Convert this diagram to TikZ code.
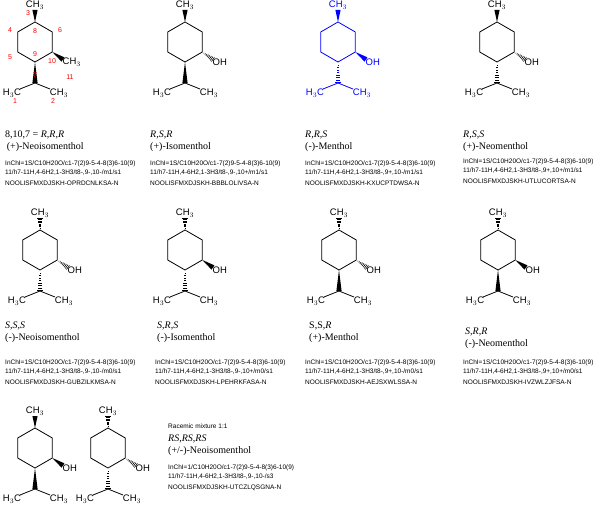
\documentclass[tikz,border=0pt]{standalone}
\usepackage{fontspec}
\setmainfont{Liberation Serif}
\newfontfamily\sanss{Liberation Sans}
\usetikzlibrary{calc}
\tikzset{
  bond/.style={line width=0.8pt},
  atom/.style={font=\sanss\fontsize{9.5}{9.5}\selectfont,inner sep=0.5pt},
  num/.style={font=\sanss\fontsize{7}{7}\selectfont,text=red,inner sep=0pt},
  small/.style={font=\sanss\fontsize{6.5}{8.4}\selectfont,anchor=north west,inner sep=0pt,align=left},
  lab/.style={font=\fontsize{10}{11.5}\selectfont,anchor=north west,inner sep=0pt,align=left}
}
\newcommand\bplain[2]{\draw[bond] (#1) -- (#2);}
\newcommand\bwedge[2]{\fill (#1) -- ($(#2)!2.6pt!90:(#1)$) -- ($(#2)!2.6pt!-90:(#1)$) -- cycle;}
\newcommand\bhash[2]{\foreach \t in {0.15,0.27,...,1.0}{\draw[line width=0.6pt] ($($(#1)!\t!(#2)$)!{\t*2.6pt}!90:(#2)$) -- ($($(#1)!\t!(#2)$)!{\t*2.6pt}!-90:(#2)$);}}
% #1 name #2 x #3 y #4 top bond #5 sub bond #6 iso bond #7 sub label #8 color
\newcommand\menthol[8]{
\begin{scope}[shift={(#2,#3)},color=#8]
\coordinate (#1c8) at (0,0); \coordinate (#1c6) at (17.3,10); \coordinate (#1c10) at (17.3,30);
\coordinate (#1c9) at (0,40); \coordinate (#1c5) at (-17.3,30); \coordinate (#1c4) at (-17.3,10);
\coordinate (#1c7) at (0,61);
\node[atom,text=#8] (#1m) at (0,-17) {CH$_3$};
\node[atom,text=#8] (#1a) at (-23,71) {H$_3$C};
\node[atom,text=#8] (#1b) at (24,71) {CH$_3$};
\node[atom,text=#8,anchor=west] (#1s) at (27,40) {#7};
\draw[bond,line join=round] (#1c8) -- (#1c6) -- (#1c10) -- (#1c9) -- (#1c5) -- (#1c4) -- cycle;
\coordinate (#1mt) at (0,-12); \coordinate (#1st) at (28,37.5);
\coordinate (#1at) at (-15,67); \coordinate (#1bt) at (15,67);
#4{#1c8}{#1mt}
#5{#1c10}{#1st}
#6{#1c9}{#1c7}
\draw[bond] (#1at) -- (#1c7) -- (#1bt);
\end{scope}}
\begin{document}
\begin{tikzpicture}[x=1pt,y=-1pt]
\useasboundingbox (0,0) rectangle (601,510);
% row 1
\menthol{A}{35}{22}{\bwedge}{\bwedge}{\bwedge}{CH$_3$}{black}
\foreach \n/\p in {3/{28,13},8/{35,31},4/{10,30},6/{60,30},5/{10,57},9/{35,54},10/{52,61},11/{70,77},7/{35,75},1/{15,101},2/{53,101}}
  \node[num] (n\n) at (\p) {\n};
\menthol{B}{185}{22}{\bwedge}{\bhash}{\bwedge}{OH}{black}
\menthol{C}{338}{22}{\bwedge}{\bwedge}{\bhash}{OH}{blue}
\menthol{D}{497}{22}{\bwedge}{\bhash}{\bhash}{OH}{black}
% row 2
\menthol{E}{40}{230}{\bhash}{\bhash}{\bhash}{OH}{black}
\menthol{F}{185}{230}{\bhash}{\bwedge}{\bhash}{OH}{black}
\menthol{G}{339}{230}{\bhash}{\bhash}{\bwedge}{OH}{black}
\menthol{H}{498}{230}{\bhash}{\bwedge}{\bwedge}{OH}{black}
% row 3
\menthol{I}{35}{428}{\bwedge}{\bwedge}{\bwedge}{OH}{black}
\menthol{J}{108}{428}{\bhash}{\bhash}{\bhash}{OH}{black}
% labels row 1
\node[lab] (l1) at (5,131) {8,10,7 = \textit{R,R,R}\\\,(+)-Neoisomenthol};
\node[lab] (l2) at (150,131) {\textit{R,S,R}\\(+)-Isomenthol};
\node[lab] (l3) at (305,131) {\textit{R,R,S}\\(-)-Menthol};
\node[lab] (l4) at (463,131) {\textit{R,S,S}\\(+)-Neomenthol};
\node[small] (i1) at (5,161) {InChI=1S/C10H20O/c1-7(2)9-5-4-8(3)6-10(9)\\11/h7-11H,4-6H2,1-3H3/t8-,9-,10-/m1/s1\\[3pt]NOOLISFMXDJSKH-OPRDCNLKSA-N};
\node[small] (i2) at (150,161) {InChI=1S/C10H20O/c1-7(2)9-5-4-8(3)6-10(9)\\11/h7-11H,4-6H2,1-3H3/t8-,9-,10+/m1/s1\\[3pt]NOOLISFMXDJSKH-BBBLOLIVSA-N};
\node[small] (i3) at (305,161) {InChI=1S/C10H20O/c1-7(2)9-5-4-8(3)6-10(9)\\11/h7-11H,4-6H2,1-3H3/t8-,9+,10-/m1/s1\\[3pt]NOOLISFMXDJSKH-KXUCPTDWSA-N};
\node[small] (i4) at (463,159) {InChI=1S/C10H20O/c1-7(2)9-5-4-8(3)6-10(9)\\11/h7-11H,4-6H2,1-3H3/t8-,9+,10+/m1/s1\\[3pt]NOOLISFMXDJSKH-UTLUCORTSA-N};
% labels row 2
\node[lab] (l5) at (5,322) {\textit{S,S,S}\\(-)-Neoisomenthol};
\node[lab] (l6) at (157,322) {\textit{S,R,S}\\(-)-Isomenthol};
\node[lab] (l7) at (309,322) {S,S,\textit{R}\\(+)-Menthol};
\node[lab] (l8) at (465,328) {\textit{S,R,R}\\(-)-Neomenthol};
\node[small] (i5) at (5,360) {InChI=1S/C10H20O/c1-7(2)9-5-4-8(3)6-10(9)\\11/h7-11H,4-6H2,1-3H3/t8-,9-,10-/m0/s1\\[3pt]NOOLISFMXDJSKH-GUBZILKMSA-N};
\node[small] (i6) at (155,360) {InChI=1S/C10H20O/c1-7(2)9-5-4-8(3)6-10(9)\\11/h7-11H,4-6H2,1-3H3/t8-,9-,10+/m0/s1\\[3pt]NOOLISFMXDJSKH-LPEHRKFASA-N};
\node[small] (i7) at (305,360) {InChI=1S/C10H20O/c1-7(2)9-5-4-8(3)6-10(9)\\11/h7-11H,4-6H2,1-3H3/t8-,9+,10-/m0/s1\\[3pt]NOOLISFMXDJSKH-AEJSXWLSSA-N};
\node[small] (i8) at (463,360) {InChI=1S/C10H20O/c1-7(2)9-5-4-8(3)6-10(9)\\11/h7-11H,4-6H2,1-3H3/t8-,9+,10+/m0/s1\\[3pt]NOOLISFMXDJSKH-IVZWLZJFSA-N};
% row 3 text
\node[small] (rm) at (168,424) {Racemic mixture 1:1};
\node[lab] (l9) at (168,435) {\textit{RS,RS,RS}\\(+/-)-Neoisomenthol};
\node[small] (i9) at (168,465) {InChI=1/C10H20O/c1-7(2)9-5-4-8(3)6-10(9)\\11/h7-11H,4-6H2,1-3H3/t8-,9-,10-/s3\\[3pt]NOOLISFMXDJSKH-UTCZLQSGNA-N};
\end{tikzpicture}
\end{document}
